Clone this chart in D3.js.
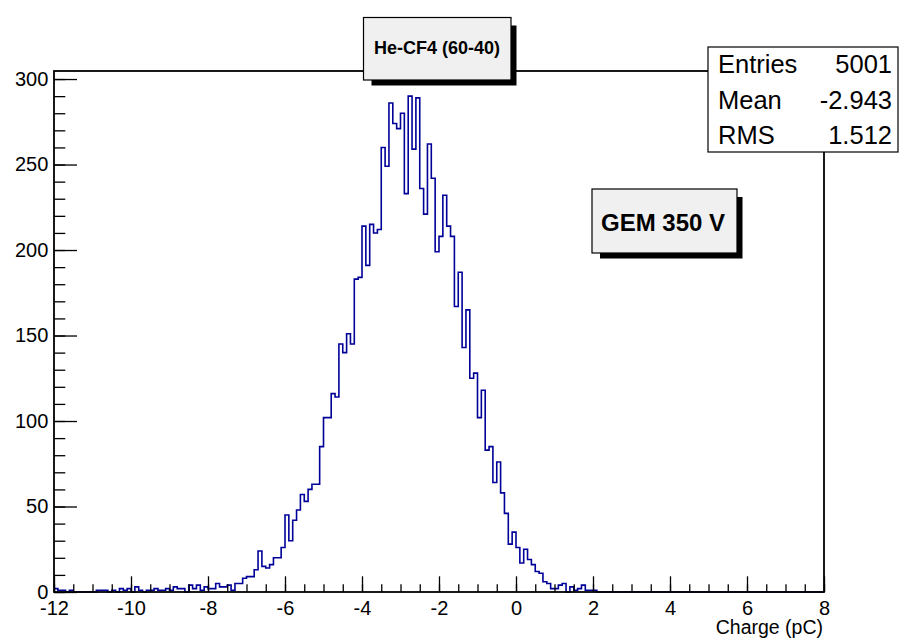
<!DOCTYPE html>
<html>
<head>
<meta charset="utf-8">
<script src="https://cdn.jsdelivr.net/npm/d3@7"></script>
<style>
  html, body { margin: 0; padding: 0; background: #ffffff; }
  svg { display: block; font-family: "Liberation Sans", Arial, Helvetica, sans-serif; }
</style>
</head>
<body>
<svg id="chart" width="899" height="641"></svg>
<script>
// Histogram binning: 0.1 pC bins starting at -12 pC
const binLow = -12;
const binWidth = 0.1;

// Bin contents from -12.0 pC upward (bins after the last listed one are empty)
const counts = [
  2, 1, 1, 0, 1, 0, 0, 0, 0, 0, 0,
  1, 1, 1, 0, 1, 0, 2, 1, 2, 0,
  3, 1, 0, 1, 1, 2, 1, 1, 2, 1,
  3, 2, 2, 0, 4, 2, 4, 1, 3, 2,
  2, 5, 3, 3, 4, 1,
  5, 5, 8, 9, 9, 13, 24, 15, 14, 16, 20, 20, 26,
  45, 30, 42, 48, 57, 53, 60, 63, 63, 85,
  102, 102, 116, 114, 145, 140, 151, 145, 183, 184,
  214, 191, 215, 210, 212, 260, 249, 286, 274, 271,
  280, 233, 290, 259, 289, 236, 221, 262, 242, 199,
  208, 232, 214, 208, 167, 187, 143, 165, 125, 128,
  102, 118, 83, 85, 64, 76, 58, 46, 28, 35,
  26, 17, 25, 19, 16, 12, 11, 6, 5, 2,
  2, 4, 5, 0, 3, 1, 2, 4, 1, 1, 1
];

// Axis ranges and tick values
const xDomain = [-12, 8];
const yDomain = [0, 304.7];
const xMajorTicks = [-12, -10, -8, -6, -4, -2, 0, 2, 4, 6, 8];
const xMinorTicks = d3.range(-12, 8.001, 0.5);
const yMajorTicks = [0, 50, 100, 150, 200, 250, 300];
const yMinorTicks = d3.range(0, 301, 10);

// Annotation texts
const titleText = "He-CF4 (60-40)";
const xTitle = "Charge (pC)";
const statsRows = [["Entries", "5001"], ["Mean", "-2.943"], ["RMS", "1.512"]];
const noteText = "GEM 350 V";

const svg = d3.select("#chart");
const frame = { left: 54, right: 824, top: 71, bottom: 592 };

const x = d3.scaleLinear().domain(xDomain).range([frame.left, frame.right]);
const y = d3.scaleLinear().domain(yDomain).range([frame.bottom, frame.top]);

// Plain hyphen for negative tick labels
const plainFormat = d => String(d);

// Step outline of the histogram
const nBins = Math.round((xDomain[1] - xDomain[0]) / binWidth);
const filled = d3.range(nBins).map(i => (i < counts.length ? counts[i] : 0));
const pts = filled.map((c, i) => [binLow + i * binWidth, c]);
pts.push([xDomain[1], 0]);

const stepLine = d3.line()
  .x(d => x(d[0]))
  .y(d => y(d[1]))
  .curve(d3.curveStepAfter);

svg.append("path")
  .datum(pts)
  .attr("d", stepLine)
  .attr("fill", "none")
  .attr("stroke", "#000099")
  .attr("stroke-width", 1.6);

// X axis: major and minor ticks drawn inward
const gx = svg.append("g").attr("transform", `translate(0,${frame.bottom})`);
gx.call(d3.axisBottom(x).tickValues(xMinorTicks).tickFormat("").tickSizeInner(-7.7).tickSizeOuter(0));
gx.call(g => g.select(".domain").remove());
const gxMaj = svg.append("g").attr("transform", `translate(0,${frame.bottom})`);
gxMaj.call(d3.axisBottom(x).tickValues(xMajorTicks).tickFormat(plainFormat)
  .tickSizeInner(-15.7).tickSizeOuter(0).tickPadding(8.8));
gxMaj.call(g => g.select(".domain").remove());
gxMaj.selectAll("text").attr("font-size", 20).attr("fill", "#000")
  .attr("font-family", "Liberation Sans, Arial, sans-serif");

// Y axis: major and minor ticks drawn inward
const gy = svg.append("g").attr("transform", `translate(${frame.left},0)`);
gy.call(d3.axisLeft(y).tickValues(yMinorTicks).tickFormat("").tickSizeInner(-11.3).tickSizeOuter(0));
gy.call(g => g.select(".domain").remove());
const gyMaj = svg.append("g").attr("transform", `translate(${frame.left},0)`);
gyMaj.call(d3.axisLeft(y).tickValues(yMajorTicks).tickFormat(plainFormat)
  .tickSizeInner(-23).tickSizeOuter(0).tickPadding(5.7));
gyMaj.call(g => g.select(".domain").remove());
gyMaj.selectAll("text").attr("font-size", 20).attr("fill", "#000")
  .attr("font-family", "Liberation Sans, Arial, sans-serif");

svg.selectAll(".tick line").attr("stroke", "#000").attr("stroke-width", 1.3);

// Frame
svg.append("rect")
  .attr("x", frame.left).attr("y", frame.top)
  .attr("width", frame.right - frame.left).attr("height", frame.bottom - frame.top)
  .attr("fill", "none").attr("stroke", "#000").attr("stroke-width", 1.8);

// X axis title, right-aligned at the frame edge
svg.append("text")
  .attr("x", frame.right - 1).attr("y", 634)
  .attr("text-anchor", "end")
  .attr("font-size", 19.5)
  .text(xTitle);

// Box with a drop shadow
function shadowBox(x0, y0, x1, y1) {
  svg.append("rect")
    .attr("x", x0 + 8).attr("y", y0 + 8)
    .attr("width", x1 - x0 - 2.5).attr("height", y1 - y0 - 2.5)
    .attr("fill", "#000");
  svg.append("rect")
    .attr("x", x0).attr("y", y0)
    .attr("width", x1 - x0).attr("height", y1 - y0)
    .attr("fill", "#f0f0f0").attr("stroke", "#000").attr("stroke-width", 1.2);
}

// Histogram title
shadowBox(363.5, 17.5, 511, 80);
svg.append("text")
  .attr("x", 437).attr("y", 54)
  .attr("text-anchor", "middle")
  .attr("font-size", 18).attr("font-weight", "bold")
  .text(titleText);

// Statistics box
svg.append("rect")
  .attr("x", 708).attr("y", 47)
  .attr("width", 190).attr("height", 105)
  .attr("fill", "#fff").attr("stroke", "#000").attr("stroke-width", 1.2);
const rowY = [73, 109, 144];
statsRows.forEach((r, i) => {
  svg.append("text").attr("x", 718).attr("y", rowY[i])
    .attr("font-size", 25.5).text(r[0]);
  svg.append("text").attr("x", 892).attr("y", rowY[i])
    .attr("text-anchor", "end").attr("font-size", 25.5).text(r[1]);
});

// Annotation label
shadowBox(592, 189, 737, 253);
svg.append("text")
  .attr("x", 663).attr("y", 231)
  .attr("text-anchor", "middle")
  .attr("font-size", 24).attr("font-weight", "bold")
  .text(noteText);
</script>
</body>
</html>
